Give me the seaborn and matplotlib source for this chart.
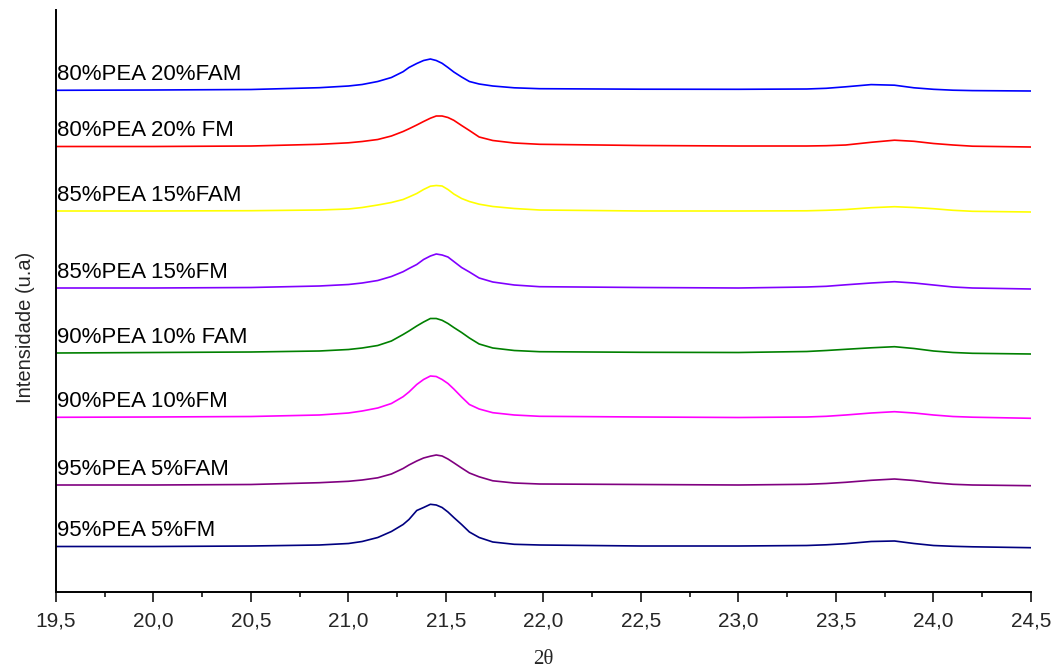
import numpy as np
import pandas as pd
import matplotlib
matplotlib.use("Agg")
import matplotlib.pyplot as plt
from matplotlib.ticker import MultipleLocator, FixedLocator, FixedFormatter
import seaborn as sns

# ---- data ----
two_theta = [19.5, 20.0, 20.5, 20.85, 21.0, 21.07, 21.15, 21.22, 21.28, 21.31,
             21.35, 21.385, 21.42, 21.45, 21.48, 21.51, 21.54, 21.58, 21.62, 21.67,
             21.74, 21.85, 21.98, 22.5, 23.0, 23.35, 23.45, 23.55, 23.68, 23.8,
             23.9, 24.0, 24.1, 24.2, 24.5]

labels = ["80%PEA 20%FAM", "80%PEA 20% FM", "85%PEA 15%FAM", "85%PEA 15%FM",
          "90%PEA 10% FAM", "90%PEA 10%FM", "95%PEA 5%FAM", "95%PEA 5%FM"]

colors = ["#0000FF", "#FF0000", "#FFFF00", "#8000FF",
          "#008000", "#FF00FF", "#800080", "#000080"]

# stacked intensities (arbitrary units, vertical offsets included)
pea80_fam20 = [501.7, 502.0, 502.5, 504.3, 506.0, 507.5, 510.5, 514.5, 520.3, 524.5,
               528.5, 531.5, 533.0, 531.5, 528.7, 524.5, 520.0, 515.0, 510.5, 508.0,
               506.0, 504.2, 503.3, 502.8, 502.7, 503.0, 503.7, 505.2, 507.4, 506.8,
               504.2, 502.7, 501.8, 501.4, 501.0]
pea80_fm20 = [445.5, 445.5, 446.0, 447.7, 449.2, 450.5, 452.5, 456.0, 460.5, 463.2,
              467.0, 470.5, 473.8, 476.0, 476.0, 474.5, 471.7, 466.5, 461.5, 455.0,
              451.5, 449.0, 447.7, 446.5, 446.0, 446.0, 446.3, 447.0, 449.7, 451.8,
              450.7, 448.5, 447.0, 445.8, 445.0]
pea85_fam15 = [381.0, 381.0, 381.3, 382.0, 383.0, 384.5, 387.0, 389.5, 392.5, 395.0,
               398.5, 402.5, 405.8, 406.5, 406.0, 402.5, 398.0, 393.5, 390.5, 387.8,
               385.5, 383.5, 382.0, 381.0, 381.0, 381.2, 381.7, 382.5, 384.3, 385.3,
               384.5, 383.3, 381.7, 380.7, 380.0]
pea85_fm15 = [304.0, 304.0, 304.5, 306.0, 307.5, 309.0, 311.5, 315.5, 320.3, 323.5,
              327.5, 332.5, 336.0, 338.0, 337.0, 335.0, 330.5, 324.5, 320.0, 314.0,
              310.0, 307.0, 305.3, 304.5, 304.0, 305.0, 305.7, 307.2, 309.0, 310.3,
              309.0, 307.0, 305.0, 304.0, 303.0]
pea90_fam10 = [239.0, 239.5, 240.0, 241.0, 242.5, 244.0, 246.5, 251.0, 257.5, 261.0,
               266.0, 270.0, 273.5, 273.5, 271.7, 268.5, 264.5, 259.5, 254.0, 248.0,
               244.0, 241.5, 240.3, 239.7, 239.5, 240.5, 241.5, 242.7, 244.2, 245.3,
               243.5, 241.0, 239.5, 238.7, 238.0]
pea90_fm10 = [174.7, 175.0, 175.5, 177.0, 179.0, 181.0, 184.0, 188.5, 195.3, 200.0,
              207.5, 212.5, 216.0, 215.5, 212.5, 208.5, 203.0, 195.0, 187.5, 183.0,
              179.3, 177.0, 175.7, 175.0, 174.5, 175.0, 175.7, 177.0, 179.0, 180.3,
              179.0, 177.0, 175.5, 174.8, 173.7]
pea95_fam5 = [107.0, 107.0, 107.5, 109.3, 110.7, 112.0, 114.2, 118.0, 123.5, 127.0,
              131.0, 134.0, 135.8, 137.0, 136.0, 133.0, 129.2, 124.0, 119.0, 115.2,
              111.2, 109.0, 108.0, 107.5, 107.0, 107.7, 108.5, 109.7, 111.7, 113.0,
              111.5, 109.2, 107.7, 107.0, 106.3]
pea95_fm5 = [45.5, 45.5, 46.0, 47.0, 48.5, 50.5, 54.5, 60.5, 67.5, 72.5,
             81.5, 84.5, 87.7, 87.0, 84.5, 80.0, 74.5, 67.5, 60.0, 54.5,
             50.0, 47.7, 47.0, 46.0, 46.0, 46.5, 47.2, 48.3, 50.5, 51.0,
             48.5, 46.5, 45.7, 45.2, 44.3]

series = [pea80_fam20, pea80_fm20, pea85_fam15, pea85_fm15,
          pea90_fam10, pea90_fm10, pea95_fam5, pea95_fm5]

xtick_values = [19.5, 20.0, 20.5, 21.0, 21.5, 22.0, 22.5, 23.0, 23.5, 24.0, 24.5]
xtick_labels = ["19,5", "20,0", "20,5", "21,0", "21,5", "22,0", "22,5",
                "23,0", "23,5", "24,0", "24,5"]

# ---- build long-form table ----
df = pd.concat([pd.DataFrame({"2theta": two_theta, "I": s, "amostra": lab})
                for s, lab in zip(series, labels)], ignore_index=True)

sns.set_style("white")
plt.rcParams["font.family"] = ["Liberation Sans", "DejaVu Sans"]

fig = plt.figure(figsize=(10.57, 6.70), dpi=100)
ax = fig.add_axes([56 / 1057, 78 / 670, 975 / 1057, 582 / 670])

sns.lineplot(data=df, x="2theta", y="I", hue="amostra", hue_order=labels,
             palette=colors, linewidth=1.2, legend=False, ax=ax, sort=True,
             estimator=None)

for s, lab in zip(series, labels):
    ax.text(19.505, s[0] + 10, lab, fontsize=16, ha="left", va="baseline",
            color="black")

ax.set_xlim(19.5, 24.5)
ax.set_ylim(0, 582)
ax.xaxis.set_major_locator(FixedLocator(xtick_values))
ax.xaxis.set_major_formatter(FixedFormatter(xtick_labels))
ax.xaxis.set_minor_locator(MultipleLocator(0.25))
ax.set_yticks([])

for side in ["top", "right"]:
    ax.spines[side].set_visible(False)
for side in ["left", "bottom"]:
    ax.spines[side].set_visible(True)
    ax.spines[side].set_color("black")
    ax.spines[side].set_linewidth(1.4)

ax.tick_params(axis="x", which="major", direction="out", length=7, width=1.1,
               color="black", labelsize=15, pad=7, bottom=True)
ax.tick_params(axis="x", which="minor", direction="out", length=3.5, width=1.1,
               color="black", bottom=True)

ax.set_xlabel("2θ", fontsize=15, family="Liberation Serif", labelpad=14)
ax.set_ylabel("Intensidade (u.a)", fontsize=14.5)
ax.yaxis.set_label_coords(-0.022, 0.455)

fig.savefig("out.png", dpi=100, facecolor="white")
